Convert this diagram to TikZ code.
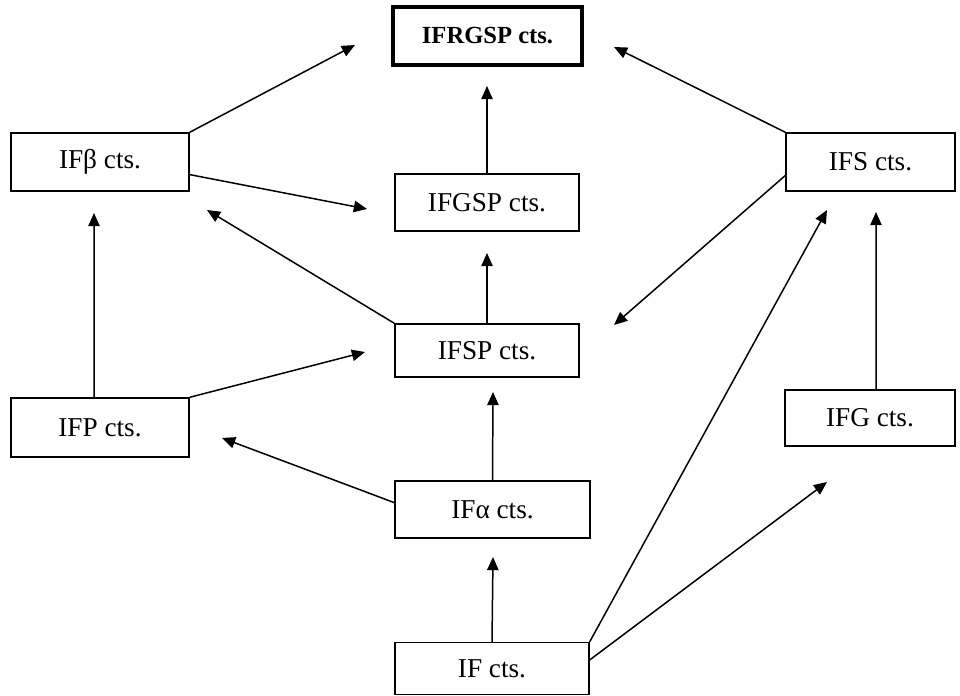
\documentclass[tikz,border=0pt]{standalone}
\usepackage{fontspec}
\setmainfont{Liberation Serif}
\usetikzlibrary{arrows.meta}

\begin{document}
\begin{tikzpicture}[x=0.02cm, y=-0.02cm,
    box/.style={draw, line width=0.8pt, inner sep=0pt, font=\fontsize{15.5}{18}\selectfont},
    arr/.style={line width=0.85pt, -{Triangle[length=7.5pt, width=6.5pt]}}]
    \useasboundingbox (0,0) rectangle (960,696);

    % Boxes
    \node[box, line width=2.4pt, minimum width=3.78cm, minimum height=1.16cm,
          font=\fontsize{14}{16}\selectfont\bfseries] (rgsp) at (487.5,36) {IFRGSP cts.};
    \node[box, minimum width=3.56cm, minimum height=1.16cm] (beta) at (100,162) {IFβ cts.};
    \node[box, minimum width=3.68cm, minimum height=1.14cm] (gsp) at (487,202.5) {IFGSP cts.};
    \node[box, minimum width=3.38cm, minimum height=1.16cm] (s) at (870.5,162) {IFS cts.};
    \node[box, minimum width=3.68cm, minimum height=1.06cm] (sp) at (487,350.5) {IFSP cts.};
    \node[box, minimum width=3.56cm, minimum height=1.18cm] (p) at (100,427.5) {IFP cts.};
    \node[box, minimum width=3.40cm, minimum height=1.12cm] (g) at (870,418) {IFG cts.};
    \node[box, minimum width=3.90cm, minimum height=1.14cm] (alpha) at (492.5,509.5) {IFα cts.};
    \node[box, minimum width=3.88cm, minimum height=1.04cm] (if) at (492,668.5) {IF cts.};

    % Free arrow ends
    \coordinate (t1) at (355,45);
    \coordinate (t2) at (367,209);
    \coordinate (t3) at (487,86);
    \coordinate (t4) at (614,47);
    \coordinate (t5) at (614,325);
    \coordinate (t6) at (487,253);
    \coordinate (t7) at (207,210);
    \coordinate (t8) at (94,213);
    \coordinate (t9) at (365,352);
    \coordinate (t10) at (222,438);
    \coordinate (t11) at (493,392);
    \coordinate (t12) at (493,557);
    \coordinate (t13) at (827,210);
    \coordinate (t14) at (827,482);
    \coordinate (t15) at (876,212);

    % Arrows
    \draw[arr] (beta.north east) -- (t1);
    \draw[arr] (beta.-8) -- (t2);
    \draw[arr] (gsp.north) -- (t3);
    \draw[arr] (s.north west) -- (t4);
    \draw[arr] (s.189) -- (t5);
    \draw[arr] (sp.north) -- (t6);
    \draw[arr] (sp.north west) -- (t7);
    \draw[arr] (p.101) -- (t8);
    \draw[arr] (p.north east) -- (t9);
    \draw[arr] (alpha.176) -- (t10);
    \draw[arr] (alpha.north) -- (t11);
    \draw[arr] (if.north) -- (t12);
    \draw[arr] (if.north east) -- (t13);
    \draw[arr] (if.5) -- (t14);
    \draw[arr] (g.78) -- (t15);
\end{tikzpicture}
\end{document}
